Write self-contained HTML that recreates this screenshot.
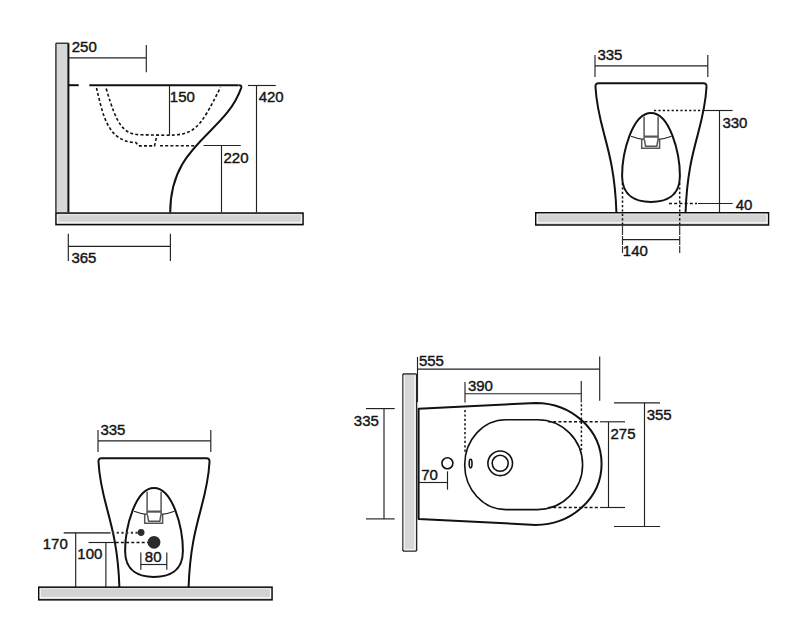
<!DOCTYPE html>
<html><head><meta charset="utf-8"><style>
html,body{margin:0;padding:0;background:#fff;}
svg{display:block;}
.t{font-family:"Liberation Sans",sans-serif;font-size:15px;fill:#141414;stroke:#141414;stroke-width:0.4;}
.d{stroke:#222;stroke-width:1.15;fill:none;}
.d2{stroke:#555;stroke-width:1.8;fill:none;}
.dl{stroke:#333;stroke-width:1.2;fill:none;stroke-dasharray:9 1;}
.ol{stroke:#111;stroke-width:2;fill:none;}
.olp{stroke:#111;stroke-width:2;fill:none;stroke-linejoin:round;}
.ol2{stroke:#111;stroke-width:1.6;fill:none;}
.thin{stroke:#222;stroke-width:1.1;fill:none;}
.sp{stroke:#555;stroke-width:1.5;fill:none;}
.sp2{stroke:#555;stroke-width:2.2;fill:none;}
.dash{stroke:#111;stroke-width:1.6;fill:none;stroke-dasharray:3 2.2;}
.dot{stroke:#111;stroke-width:1.5;fill:none;stroke-dasharray:2.2 2.2;}
.dot2{stroke:#333;stroke-width:2;fill:none;stroke-dasharray:2.2 2.5;}
.wall{fill:#d6d7d9;stroke:none;}
.wb{stroke:#111;stroke-width:1.2;fill:none;}
.floor{fill:#d3d3d3;stroke:#0a0a0a;stroke-width:1.5;}
.hl{stroke:#f4f4f4;stroke-width:1.3;fill:none;}
.hl2{stroke:#e2e2e2;stroke-width:1.2;fill:none;}
.blob{fill:#2b2b2b;}
</style></head>
<body><svg width="800" height="623" viewBox="0 0 800 623">
<rect x="55.9" y="43.2" width="12.6" height="169.5" class="wall"/>
<line x1="55.9" y1="43.2" x2="55.9" y2="212.5" class="wb"/>
<line x1="55.9" y1="43.2" x2="68.5" y2="43.2" class="wb"/>
<line x1="68.4" y1="43.2" x2="68.4" y2="212.5" class="ol"/>
<rect x="55.95" y="213.05" width="247.1" height="11.6" class="floor"/><line x1="57.15" y1="222.35" x2="301.85" y2="222.35" class="hl"/><line x1="57.55" y1="214.45" x2="57.55" y2="223.25" class="hl"/><line x1="301.45" y1="214.45" x2="301.45" y2="223.25" class="hl"/><line x1="57.15" y1="214.55" x2="301.85" y2="214.55" class="hl2"/>
<line x1="68.5" y1="85.2" x2="78.7" y2="85.2" class="ol"/>
<line x1="89.3" y1="85.2" x2="238.6" y2="85.2" class="ol"/>
<path d="M238.8 85.2 Q241.9 85.1 241.3 87.6 C224.81 135.19 170.2 142.92 170.2 212.5" class="olp"/>
<path d="M106.2 88.5 C116.86 125.51 123.33 134.8 142 134.8 L165 135.2 C193.8 135.2 198.93 130.85 220.5 87.3" class="dash"/>
<path d="M96.5 88 C102.54 111.95 106.51 141.9 135.9 142.6 L138.6 145.9 L154.5 145.9 L157 134.8" class="dash"/>
<line x1="160" y1="145.8" x2="195.5" y2="145.8" class="dash"/>
<line x1="69" y1="57.9" x2="146.3" y2="57.9" class="d"/>
<line x1="146.3" y1="45" x2="146.3" y2="72.3" class="d"/>
<line x1="169.5" y1="85.5" x2="169.5" y2="134.8" class="d"/>
<line x1="248" y1="85.5" x2="275.8" y2="85.5" class="d"/>
<line x1="256.5" y1="85.5" x2="256.5" y2="212.5" class="d"/>
<line x1="203.6" y1="145.5" x2="240.8" y2="145.5" class="d"/>
<line x1="221.5" y1="145.5" x2="221.5" y2="212.5" class="d"/>
<line x1="68.3" y1="233.8" x2="68.3" y2="261" class="d"/>
<line x1="170.4" y1="233.8" x2="170.4" y2="261" class="d"/>
<line x1="68.3" y1="246.3" x2="170.4" y2="246.3" class="d"/>
<text transform="translate(71.75 51.75) scale(1.0 1.03)" class="t">250</text>
<text transform="translate(169.86 102.15) scale(1.0 1.03)" class="t">150</text>
<text transform="translate(258.65 101.65) scale(1.0 1.03)" class="t">420</text>
<text transform="translate(223.45 162.65) scale(1.0 1.03)" class="t">220</text>
<text transform="translate(71.43 262.95) scale(1.0 1.03)" class="t">365</text>
<g id="front"><path d="M616.4 212 C614.21 146.58 597.63 129.56 595.5 87 Q595.2 83.3 598.6 83.3 L703.4 83.3 Q706.8 83.3 706.5 87 C704.37 129.56 687.79 146.58 685.6 212" class="olp"/><path d="M651 112.9 C632.34 112.9 622.1 152.28 622.1 176 C622.1 196.61 636.8 202 651 202 C665.2 202 679.9 196.61 679.9 176 C679.9 152.28 669.66 112.9 651 112.9 Z" class="olp"/><path d="M644.1 116.8 L644.1 139.2 M658.1 116.8 L658.1 139.2" class="sp"/><path d="M644.1 136.6 L658.1 136.6" class="sp2"/><path d="M641.7 139.6 L641.7 148.2 L659.6 148.2 L659.6 139.6 M644.3 139.4 L645.6 146.2 L656.8 146.2 L658 139.4" class="sp"/><path d="M631 136.2 Q638 138.8 643.7 139.4 M658.5 139.4 Q664.5 138.8 671.6 136.2" class="thin"/></g>
<rect x="535.75" y="212.75" width="232.8" height="12.25" class="floor"/><line x1="536.95" y1="222.7" x2="767.35" y2="222.7" class="hl"/><line x1="537.35" y1="214.15" x2="537.35" y2="223.6" class="hl"/><line x1="766.95" y1="214.15" x2="766.95" y2="223.6" class="hl"/><line x1="536.95" y1="214.25" x2="767.35" y2="214.25" class="hl2"/>
<line x1="595" y1="55" x2="595" y2="77" class="d"/>
<line x1="707.8" y1="55" x2="707.8" y2="77" class="d"/>
<line x1="595" y1="65.8" x2="707.8" y2="65.8" class="d"/>
<text transform="translate(597.43 60.35) scale(1.0 1.03)" class="t">335</text>
<line x1="654" y1="110.5" x2="703" y2="110.5" class="dot"/>
<line x1="703" y1="110.5" x2="732.6" y2="110.5" class="d"/>
<line x1="719.5" y1="110.5" x2="719.5" y2="212.5" class="d"/>
<text transform="translate(722.43 127.95) scale(1.0 1.03)" class="t">330</text>
<line x1="669" y1="203.5" x2="697" y2="203.5" class="dash"/>
<line x1="698" y1="203.5" x2="732.6" y2="203.5" class="d"/>
<text transform="translate(735.65 210.15) scale(1.0 1.03)" class="t">40</text>
<line x1="622.5" y1="183" x2="622.5" y2="226" class="dot"/>
<line x1="679.7" y1="183" x2="679.7" y2="226" class="dot"/>
<line x1="622.5" y1="226" x2="622.5" y2="253" class="dl"/>
<line x1="679.7" y1="226" x2="679.7" y2="253" class="dl"/>
<line x1="622.5" y1="239.6" x2="679.7" y2="239.6" class="d"/>
<text transform="translate(622.86 256.35) scale(1.0 1.03)" class="t">140</text>
<use href="#front" transform="translate(-497 375)"/>
<rect x="38.75" y="587.15" width="233.3" height="12.7" class="floor"/><line x1="39.95" y1="597.55" x2="270.85" y2="597.55" class="hl"/><line x1="40.35" y1="588.55" x2="40.35" y2="598.45" class="hl"/><line x1="270.45" y1="588.55" x2="270.45" y2="598.45" class="hl"/><line x1="39.95" y1="588.65" x2="270.85" y2="588.65" class="hl2"/>
<line x1="98" y1="430" x2="98" y2="452" class="d"/>
<line x1="210.8" y1="430" x2="210.8" y2="452" class="d"/>
<line x1="98" y1="440.8" x2="210.8" y2="440.8" class="d"/>
<text transform="translate(100.43 435.35) scale(1.0 1.03)" class="t">335</text>
<line x1="63.7" y1="532.8" x2="110.6" y2="532.8" class="d2"/>
<line x1="112" y1="532.7" x2="138" y2="532.7" class="dot2"/>
<line x1="75.7" y1="532.8" x2="75.7" y2="587.2" class="d"/>
<text transform="translate(42.76 549.35) scale(1.0 1.03)" class="t">170</text>
<line x1="88.5" y1="542.5" x2="115.7" y2="542.5" class="d"/>
<line x1="115.7" y1="542.5" x2="148" y2="542.5" class="dash"/>
<line x1="105.9" y1="542.5" x2="105.9" y2="587.2" class="d"/>
<text transform="translate(77.36 559.05) scale(1.0 1.03)" class="t">100</text>
<circle cx="141.1" cy="532.5" r="3.4" class="blob"/>
<circle cx="154" cy="542.3" r="6.4" class="blob"/>
<line x1="140.85" y1="552.5" x2="140.85" y2="569.8" class="d"/>
<line x1="166.8" y1="552.5" x2="166.8" y2="569.8" class="d"/>
<line x1="140.85" y1="564.5" x2="166.8" y2="564.5" class="d"/>
<text transform="translate(144.85 561.95) scale(1.0 1.03)" class="t">80</text>
<rect x="402.9" y="373.9" width="13.6" height="177.2" class="wall"/>
<line x1="402.9" y1="373.9" x2="402.9" y2="551.1" class="wb"/>
<line x1="402.9" y1="551.1" x2="416.5" y2="551.1" class="wb"/>
<line x1="402.9" y1="373.9" x2="416.5" y2="373.9" class="wb"/>
<line x1="416.7" y1="373.9" x2="416.7" y2="551.1" class="wb"/>
<line x1="414.9" y1="375.3" x2="414.9" y2="549.7" class="hl"/>
<line x1="404.3" y1="375.3" x2="404.3" y2="549.7" class="hl"/>
<line x1="404.3" y1="549.6" x2="414.9" y2="549.6" class="hl"/>
<line x1="417.5" y1="357" x2="417.5" y2="402" class="d"/>
<path d="M418.6 519 L418.6 408.8 L535.6 402.9 A66 61 0 0 1 535.6 524.9 Z" class="olp"/>
<path d="M506 419.7 L537.6 419.7 A45 44.95 0 0 1 537.6 509.6 L506 509.6 A41.3 44.95 0 0 1 506 419.7 Z" class="ol2"/>
<ellipse cx="470.6" cy="463.6" rx="1.4" ry="4.3" class="ol2"/>
<circle cx="500.2" cy="463.3" r="12.3" class="ol2"/>
<circle cx="500.2" cy="463.3" r="8" class="ol2"/>
<circle cx="447.4" cy="463.2" r="5.5" class="ol2"/>
<line x1="417.5" y1="369.1" x2="599.7" y2="369.1" class="d"/>
<line x1="599.7" y1="356.5" x2="599.7" y2="400.7" class="d"/>
<text transform="translate(418.9 366.05) scale(1.0 1.03)" class="t">555</text>
<line x1="465" y1="382" x2="465" y2="402.5" class="d"/>
<line x1="465" y1="410" x2="465" y2="454" class="dot"/>
<line x1="581.25" y1="381" x2="581.25" y2="402.5" class="d"/>
<line x1="581.4" y1="404.2" x2="581.4" y2="450" class="dot"/>
<line x1="465" y1="393.7" x2="581.2" y2="393.7" class="d"/>
<text transform="translate(467.93 390.65) scale(1.0 1.03)" class="t">390</text>
<line x1="366" y1="408.6" x2="394.7" y2="408.6" class="d"/>
<line x1="366" y1="518.9" x2="394.7" y2="518.9" class="d"/>
<line x1="384" y1="408.6" x2="384" y2="518.9" class="d"/>
<text transform="translate(353.83 425.65) scale(1.0 1.03)" class="t">335</text>
<line x1="614" y1="402.8" x2="660" y2="402.8" class="d"/>
<line x1="614" y1="526.5" x2="660" y2="526.5" class="d"/>
<line x1="644.5" y1="402.8" x2="644.5" y2="526.5" class="d"/>
<text transform="translate(646.63 419.55) scale(1.0 1.03)" class="t">355</text>
<line x1="548" y1="421.8" x2="600" y2="421.8" class="dash"/>
<line x1="548" y1="507.5" x2="600" y2="507.5" class="dash"/>
<line x1="600" y1="421.8" x2="625" y2="421.8" class="d"/>
<line x1="600" y1="507.5" x2="625" y2="507.5" class="d"/>
<line x1="608.5" y1="421.9" x2="608.5" y2="507.5" class="d"/>
<text transform="translate(610.45 438.65) scale(1.0 1.03)" class="t">275</text>
<line x1="418.6" y1="482.5" x2="447.5" y2="482.5" class="d"/>
<line x1="447.5" y1="471.3" x2="447.5" y2="489.7" class="d"/>
<text transform="translate(421.13 480.25) scale(1.0 1.03)" class="t">70</text>
</svg></body></html>
